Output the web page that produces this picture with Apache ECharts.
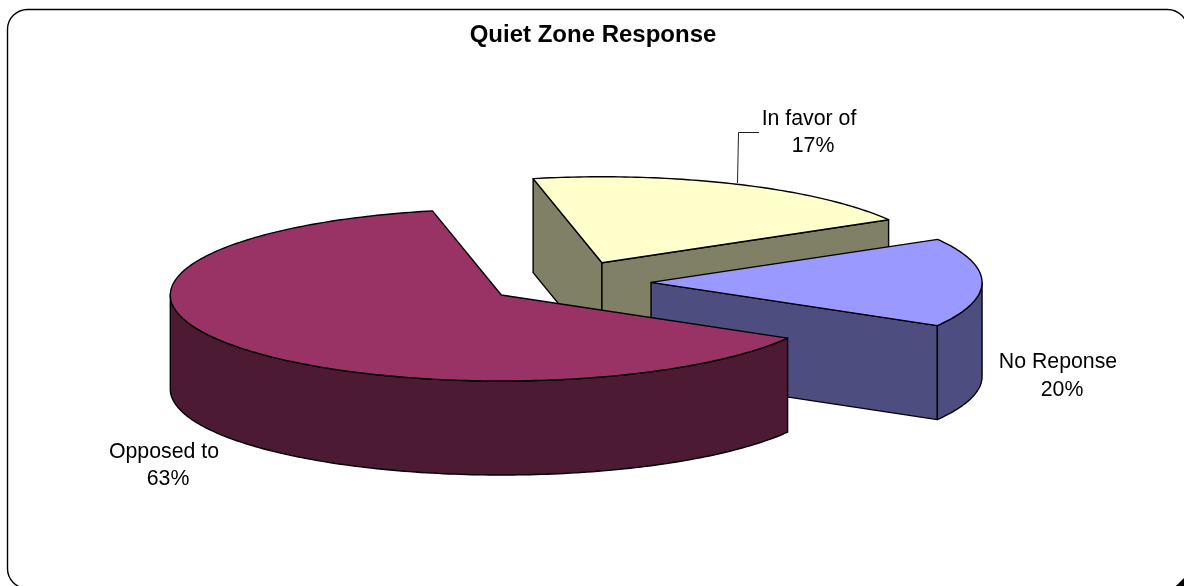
<!DOCTYPE html>
<html>
<head>
<meta charset="utf-8">
<title>Quiet Zone Response</title>
<script src="https://cdn.jsdelivr.net/npm/echarts@6/dist/echarts.min.js"></script>
<style>
  html, body { margin: 0; padding: 0; background: #fff; }
  #chart { width: 1184px; height: 586px; }
</style>
</head>
<body>
<div id="chart"></div>
<script>
(function () {
  'use strict';

  // drawn in the order of the picture, back slice first
  var categories = ['In favor of', 'No Reponse', 'Opposed to'];
  // the printed percentages do not follow the wedge sizes in the original, so both are kept
  var printedLabels = ['17%', '20%', '63%'];
  var wedgeShares = [20, 16.7, 63.3];

  var topColors = ['#FFFFCC', '#9999FF', '#993366'];
  var wallColors = ['#808066', '#4D4D80', '#4D1A33'];

  // projection of the disc
  var CX = 568.3, CY = 282.4, RX = 331, RY = 86, DEPTH = 94;
  var EXPLODE = 0.25, START_ANGLE = -12;
  var FONT = '"Liberation Sans", Arial, sans-serif';

  var nameSpots = [[809, 119], [1058, 362], [164, 452]];
  var valueSpots = [[813, 146], [1062, 390], [168, 479]];
  var leader = [[737.5, 183], [738.5, 132.5], [759, 132.5]];

  function rad(a) { return a * Math.PI / 180; }

  // angle is clockwise from the far side of the disc
  function onRim(c, angle, drop) {
    return [c[0] + RX * Math.sin(rad(angle)), c[1] - RY * Math.cos(rad(angle)) + (drop || 0)];
  }

  function arcPoints(c, from, to, drop) {
    var pts = [];
    var steps = Math.max(2, Math.ceil(Math.abs(to - from)));
    for (var i = 0; i <= steps; i++) {
      pts.push(onRim(c, from + (to - from) * i / steps, drop));
    }
    return pts;
  }

  function face(points, fill) {
    return {
      type: 'polygon',
      shape: { points: points },
      style: { fill: fill, stroke: '#000', lineWidth: 1.4, lineJoin: 'round' }
    };
  }

  function radialWall(apex, angle, fill) {
    var rim = onRim(apex, angle);
    return face([apex, rim, [rim[0], rim[1] + DEPTH], [apex[0], apex[1] + DEPTH]], fill);
  }

  function renderSlice(params, api) {
    var i = params.dataIndex;
    var before = 0;
    for (var k = 0; k < i; k++) before += wedgeShares[k];
    var start = START_ANGLE + before * 3.6;
    var end = start + api.value(0) * 3.6;
    var mid = (start + end) / 2;
    var apex = [
      CX + RX * EXPLODE * Math.sin(rad(mid)),
      CY - RY * EXPLODE * Math.cos(rad(mid))
    ];
    var kids = [];

    // a wall shows only when it faces the near side
    if (Math.cos(rad(start - 90)) < 0) kids.push(radialWall(apex, start, wallColors[i]));
    if (Math.cos(rad(end + 90)) < 0) kids.push(radialWall(apex, end, wallColors[i]));
    var frontFrom = Math.max(start, 90), frontTo = Math.min(end, 270);
    if (frontTo > frontFrom) {
      var lower = arcPoints(apex, frontTo, frontFrom, DEPTH);
      kids.push(face(arcPoints(apex, frontFrom, frontTo).concat(lower), wallColors[i]));
    }
    kids.push(face([apex].concat(arcPoints(apex, start, end)), topColors[i]));

    kids.push({
      type: 'text',
      style: { text: categories[i], x: nameSpots[i][0], y: nameSpots[i][1], align: 'center', verticalAlign: 'middle', fill: '#000', font: '21.3px ' + FONT }
    });
    kids.push({
      type: 'text',
      style: { text: printedLabels[i], x: valueSpots[i][0], y: valueSpots[i][1], align: 'center', verticalAlign: 'middle', fill: '#000', font: '21.3px ' + FONT }
    });
    return { type: 'group', children: kids };
  }

  var chart = echarts.init(document.getElementById('chart'), null, { renderer: 'canvas' });
  chart.setOption({
    animation: false,
    backgroundColor: '#fff',
    title: {
      text: 'Quiet Zone Response',
      left: 588,
      top: 18,
      textAlign: 'center',
      textStyle: { fontFamily: FONT, fontSize: 24, fontWeight: 'bold', color: '#000' }
    },
    graphic: [
      {
        type: 'rect',
        silent: true,
        z: 10,
        shape: { x: 7.5, y: 9.5, width: 1180, height: 579, r: 20 },
        style: { fill: 'none', stroke: '#000', lineWidth: 1.4 }
      },
      {
        type: 'polygon',
        silent: true,
        z: 10,
        shape: { points: [[1176, 586], [1184, 578], [1184, 586]] },
        style: { fill: '#000' }
      },
      {
        type: 'polyline',
        silent: true,
        z: 10,
        shape: { points: leader },
        style: { fill: 'none', stroke: '#222', lineWidth: 1 }
      }
    ],
    series: [{
      type: 'custom',
      coordinateSystem: 'none',
      silent: true,
      clip: false,
      renderItem: renderSlice,
      data: wedgeShares.map(function (v) { return [v]; })
    }]
  });
})();
</script>
</body>
</html>
